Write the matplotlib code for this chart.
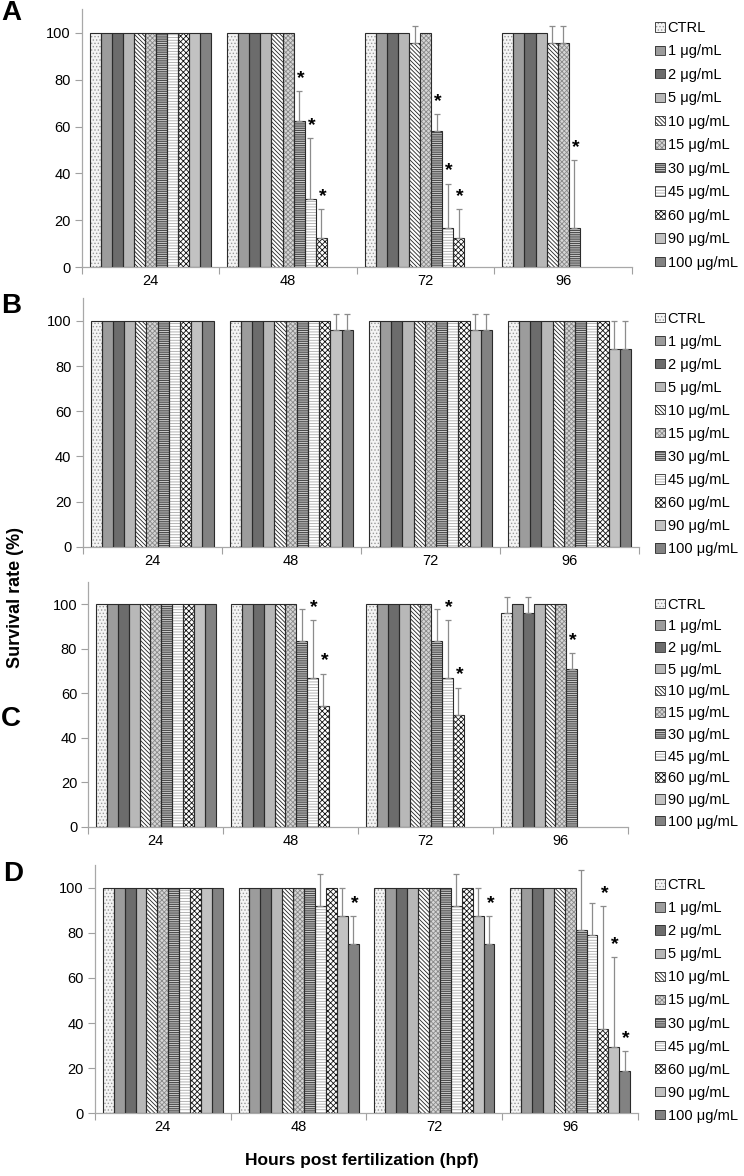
import matplotlib
matplotlib.use("Agg")
import matplotlib.pyplot as plt
import numpy as np
from matplotlib.patches import Patch
from matplotlib.transforms import blended_transform_factory

plt.rcParams['font.family'] = ['Liberation Sans', 'DejaVu Sans']
plt.rcParams['hatch.linewidth'] = 0.6

# Data
hpf = ['24', '48', '72', '96']
series = ['CTRL', '1 μg/mL', '2 μg/mL', '5 μg/mL', '10 μg/mL', '15 μg/mL',
          '30 μg/mL', '45 μg/mL', '60 μg/mL', '90 μg/mL', '100 μg/mL']

a_mean = [[100] * 11,
          [100, 100, 100, 100, 100, 100, 62.5, 29.2, 12.5, 0, 0],
          [100, 100, 100, 100, 95.8, 100, 58.3, 16.7, 12.5, 0, 0],
          [100, 100, 100, 100, 95.8, 95.8, 16.7, 0, 0, 0, 0]]
a_err = [[0] * 11,
         [0, 0, 0, 0, 0, 0, 12.5, 26, 12.5, 0, 0],
         [0, 0, 0, 0, 7.2, 0, 7.2, 19, 12.5, 0, 0],
         [0, 0, 0, 0, 7.2, 7.2, 28.9, 0, 0, 0, 0]]
a_star = [[], [6, 7, 8], [6, 7, 8], [6]]

b_mean = [[100] * 11,
          [100] * 9 + [95.8, 95.8],
          [100] * 9 + [95.8, 95.8],
          [100] * 9 + [87.5, 87.5]]
b_err = [[0] * 11,
         [0] * 9 + [7.2, 7.2],
         [0] * 9 + [7.2, 7.2],
         [0] * 9 + [12.5, 12.5]]
b_star = [[], [], [], []]

c_mean = [[100] * 11,
          [100] * 6 + [83.3, 66.7, 54.2, 0, 0],
          [100] * 6 + [83.3, 66.7, 50, 0, 0],
          [95.8, 100, 95.8, 100, 100, 100, 70.8, 0, 0, 0, 0]]
c_err = [[0] * 11,
         [0] * 6 + [14.4, 26, 14.6, 0, 0],
         [0] * 6 + [14.4, 26, 12.5, 0, 0],
         [7.2, 0, 7.2, 0, 0, 0, 7.2, 0, 0, 0, 0]]
c_star = [[], [7, 8], [7, 8], [6]]

d_mean = [[100] * 11,
          [100] * 7 + [91.7, 100, 87.5, 75],
          [100] * 7 + [91.7, 100, 87.5, 75],
          [100] * 6 + [81.2, 79.2, 37.5, 29.2, 18.8]]
d_err = [[0] * 11,
         [0] * 7 + [14.4, 0, 12.5, 12.5],
         [0] * 7 + [14.4, 0, 12.5, 12.5],
         [0] * 6 + [26.5, 14.2, 54.4, 40, 8.8]]
d_star = [[], [10], [10], [8, 9, 10]]

# fill styles (face, hatch, hatch colour)
styles = [
    ('#f4f4f4', '.....', '#9a9a9a'),
    ('#9c9c9c', '', '#9c9c9c'),
    ('#6c6c6c', '', '#6c6c6c'),
    ('#b8b8b8', '', '#b8b8b8'),
    ('white', '\\' * 8, '#222222'),
    ('#d6d6d6', 'x' * 7, '#8a8a8a'),
    ('#cccccc', '-' * 9, '#333333'),
    ('white', '-' * 6, '#a8a8a8'),
    ('white', 'x' * 6, '#111111'),
    ('#c2c2c2', '', '#c2c2c2'),
    ('#828282', '', '#828282'),
]

# letter, data, axes rect, letter position (px), legend centre, legend spacing
panels = [
    ('A', a_mean, a_err, a_star, [0.1098, 0.7727, 0.7397, 0.2194], (11, 13), 52, 0.65),
    ('B', b_mean, b_err, b_star, [0.1109, 0.5351, 0.7480, 0.2112], (11, 306), 50, 0.62),
    ('C', c_mean, c_err, c_star, [0.1187, 0.2970, 0.7258, 0.2083], (11, 719), 51, 0.53),
    ('D', d_mean, d_err, d_star, [0.1276, 0.0533, 0.7300, 0.2111], (13, 874), 50, 0.62),
]

fig = plt.figure(figsize=(7.44, 11.76), dpi=100)
n = len(series)
w = 0.885 / n
x = np.arange(len(hpf))

for letter, mean, err, star, pos, lpos, leg_y, leg_sp in panels:
    ax = fig.add_axes(pos)
    mean = np.array(mean, dtype=float)
    err = np.array(err, dtype=float)
    for i in range(n):
        xs = x + (i - (n - 1) / 2) * w
        vals = mean[:, i]
        keep = vals > 0
        face, hatch, hcol = styles[i]
        ax.bar(xs[keep], vals[keep], w, color=face, edgecolor=hcol,
               hatch=hatch, linewidth=0, zorder=2)
        ax.bar(xs[keep], vals[keep], w, fill=False, edgecolor='#2b2b2b',
               linewidth=0.8, zorder=3)
        e = err[:, i]
        m = e > 0
        if m.any():
            ax.errorbar(xs[m], vals[m], yerr=[np.zeros(m.sum()), e[m]],
                        fmt='none', ecolor='#8c8c8c', elinewidth=0.9,
                        capsize=2.2, capthick=0.9, zorder=4)
    for t in range(len(hpf)):
        for i in star[t]:
            xi = x[t] + (i - (n - 1) / 2) * w
            ax.annotate('*', (xi, mean[t, i] + err[t, i]), xytext=(1, 9),
                        textcoords='offset points', ha='center', va='center',
                        fontsize=14, fontweight='bold')

    ax.set_xlim(-0.5, len(hpf) - 0.5)
    ax.set_ylim(0, 110)
    ax.set_yticks(range(0, 101, 20))
    ax.set_xticks(np.arange(len(hpf) + 1) - 0.5)
    ax.set_xticklabels([])
    ax.set_xticks(x, minor=True)
    ax.set_xticklabels(hpf, minor=True)
    ax.tick_params(axis='x', which='minor', length=0, labelsize=10.5, pad=5)
    ax.tick_params(axis='x', which='major', length=5, color='#a0a0a0')
    ax.tick_params(axis='y', length=5, color='#a0a0a0', labelsize=10.5, pad=3)
    for s in ['top', 'right']:
        ax.spines[s].set_visible(False)
    for s in ['left', 'bottom']:
        ax.spines[s].set_color('#a8a8a8')
        ax.spines[s].set_linewidth(0.9)

    handles = [(Patch(facecolor=f, edgecolor=hc, hatch=h, linewidth=0),
                Patch(fill=False, edgecolor='#2b2b2b', linewidth=0.6))
               for f, h, hc in styles]
    trans = blended_transform_factory(fig.transFigure, ax.transData)
    ax.legend(handles, series, loc='center left', bbox_to_anchor=(0.880, leg_y),
              bbox_transform=trans, frameon=False, fontsize=10.5,
              handlelength=0.68, handleheight=0.62, handletextpad=0.2,
              labelspacing=leg_sp, borderpad=0, borderaxespad=0)

    fig.text(lpos[0] / 744, 1 - lpos[1] / 1176, letter, fontsize=20,
             fontweight='bold', ha='center', va='center')

fig.text(16 / 744, 1 - 598 / 1176, 'Survival rate (%)', rotation=90,
         fontsize=13, fontweight='bold', ha='center', va='center')
fig.text(362 / 744, 1 - 1160 / 1176, 'Hours post fertilization (hpf)',
         fontsize=12.5, fontweight='bold', ha='center', va='center')

fig.savefig('out.png', dpi=100)
